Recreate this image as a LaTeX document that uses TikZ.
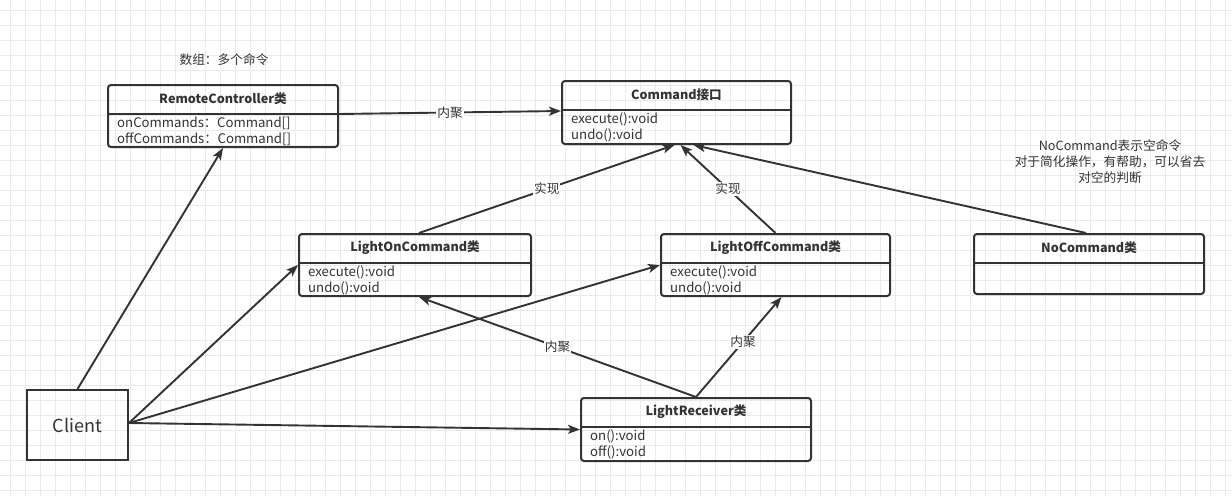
\documentclass[tikz,border=0pt]{standalone}
\usepackage{fontspec}
\setmainfont{Noto Sans CJK SC}
\usetikzlibrary{arrows.meta}
\definecolor{ink}{HTML}{333333}
\definecolor{gridc}{HTML}{EAEAEA}

\tikzset{umlbox/.style={draw=ink,line width=2pt,rounded corners=3pt,anchor=north west,inner sep=0pt},
         umlsep/.style={draw=ink,line width=2pt},
         umltitle/.style={font=\fontsize{12.6}{16}\selectfont\bfseries,text=ink},
         umlattr/.style={anchor=west,inner sep=0pt,text=ink,font=\fontsize{13.2}{16}\selectfont},
         umlarr/.style={draw=ink,line width=1.9pt,-{Stealth[length=12pt,width=9pt,inset=3pt]}},
         umllab/.style={fill=white,inner sep=1pt,text=ink}}

\begin{document}
\begin{tikzpicture}[x=1pt,y=-1pt, every node/.style={font=\fontsize{12.7}{16}\selectfont}]
  \useasboundingbox (0,0) rectangle (1232,496);
  % grid
  \fill[white] (0,0) rectangle (1232,496);
  \foreach \x in {10,25,...,1230} \draw[gridc,line width=0.6pt] (\x,0) -- (\x,496);
  \foreach \y in {10,25,...,490} \draw[gridc,line width=0.6pt] (0,\y) -- (1232,\y);
  % classes
  \foreach \n/\x/\y/\w/\h/\t in {rc/107/84/230/62/RemoteController类, cmd/561/80/229/63/Command接口,
      loc/298/233/232/62/LightOnCommand类, lofc/660/233/229/62/LightOffCommand类,
      noc/973/233/230/60/NoCommand类, rcv/580/397/230/63/LightReceiver类} {
    \node[umlbox,minimum width=\w pt,minimum height=\h pt] (\n) at (\x,\y) {};
    \draw[umlsep] ([yshift=-30pt]\n.north west) -- ([yshift=-30pt]\n.north east);
    \node[umltitle] (\n-t) at ([yshift=-15pt]\n.north) {\t};
  }
  \foreach \n/\a/\b in {rc/onCommands：Command[]/offCommands：Command[], cmd/execute():void/undo():void,
      loc/execute():void/undo():void, lofc/execute():void/undo():void, rcv/on():void/off():void} {
    \node[umlattr] (\n-a) at ([xshift=10pt,yshift=-39pt]\n.north west) {\a};
    \node[umlattr] (\n-b) at ([xshift=10pt,yshift=-55pt]\n.north west) {\b};
  }
  \node[draw=ink,line width=2pt,minimum width=101pt,minimum height=70pt,
        font=\fontsize{18}{22}\selectfont,text=ink] (client) at (77.5,425) {Client};
  % notes
  \node[text=ink] (arrnote) at (224,60) {数组：多个命令};
  \node[text=ink,align=center] (nullnote) at (1110,162) {NoCommand表示空命令\\对于简化操作，有帮助，可以省去\\对空的判断};
  % relations
  \draw[umlarr] ([yshift=2pt]rc.east) -- node[umllab] (agg0) {内聚} ([yshift=1.5pt]cmd.west);
  \draw[umlarr] ([xshift=4pt]loc.north) -- node[umllab] (impl1) {实现} ([xshift=-2pt]cmd.south);
  \draw[umlarr] (lofc.north) -- node[umllab] (impl2) {实现} ([xshift=4pt]cmd.south);
  \draw[umlarr] ([xshift=-3pt]noc.north) -- ([xshift=17pt]cmd.south);
  \draw[umlarr] (client.north) -- (rc.south);
  \foreach \t in {loc,lofc,rcv} \draw[umlarr] ([yshift=2pt]client.east) -- (\t.west);
  \draw[umlarr] (rcv.north) -- node[umllab] (agg1) {内聚} ([xshift=4pt]loc.south);
  \draw[umlarr] (rcv.north) -- node[umllab,pos=0.55] (agg2) {内聚} ([xshift=6pt]lofc.south);
\end{tikzpicture}
\end{document}
